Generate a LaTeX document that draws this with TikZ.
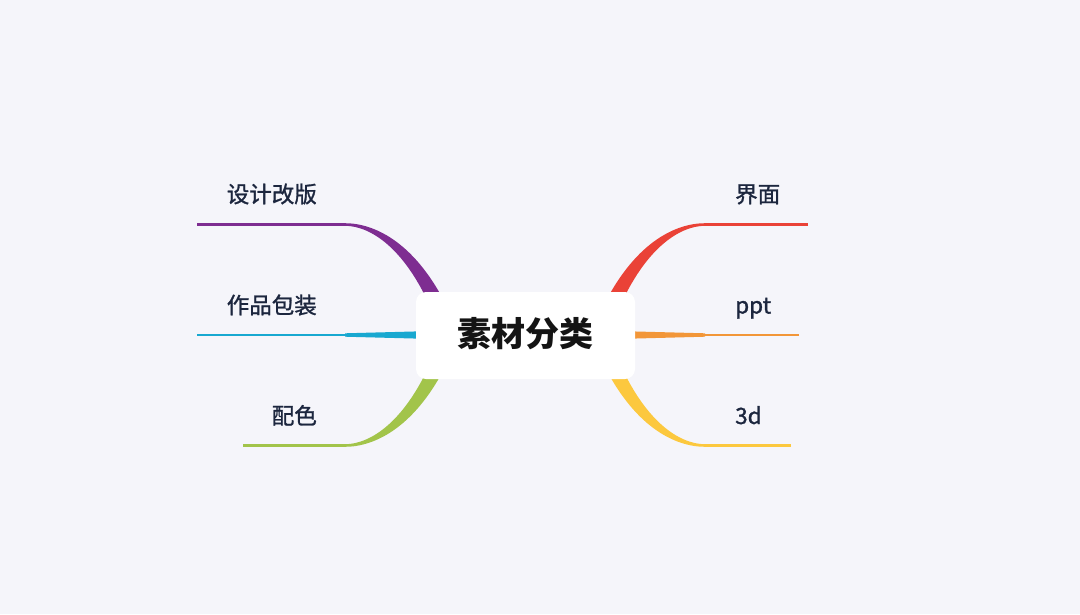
\documentclass[tikz,border=0pt]{standalone}
\usepackage{fontspec}
\newfontfamily\cjk{Noto Sans CJK SC}
\newfontfamily\cjkm[FakeBold=1.2]{Noto Sans CJK SC}
\definecolor{bgc}{RGB}{245,245,250}
\definecolor{txt}{RGB}{28,38,62}
\definecolor{cpur}{RGB}{126,45,145}
\definecolor{ccya}{RGB}{24,168,208}
\definecolor{cgrn}{RGB}{162,196,74}
\definecolor{cred}{RGB}{234,66,55}
\definecolor{cora}{RGB}{242,150,56}
\definecolor{cyel}{RGB}{252,200,62}
\begin{document}
\begin{tikzpicture}[x=1pt,y=-1pt,
  lbl/.style={inner sep=0pt,text=txt,font=\cjkm\fontsize{22.5}{22.5}\selectfont},
  branchline/.style={line width=2.5pt}]
\fill[bgc] (0,0) rectangle (1080,614);
\useasboundingbox (0,0) rectangle (1080,614);
% line end coordinates
\coordinate (pA) at (197,224.5);  \coordinate (pB) at (345,224.5);
\coordinate (cA) at (197,335);    \coordinate (cB) at (345,335);
\coordinate (gA) at (243,445.5);  \coordinate (gB) at (345,445.5);
\coordinate (rA) at (808,224.5);  \coordinate (rB) at (705,224.5);
\coordinate (oA) at (799,335);    \coordinate (oB) at (705,335);
\coordinate (yA) at (791,445.5);  \coordinate (yB) at (705,445.5);
% horizontal lines
\draw[branchline,cpur] (pA) -- (pB);
\draw[branchline,ccya] (cA) -- (cB);
\draw[branchline,cgrn] (gA) -- (gB);
\draw[branchline,cred] (rA) -- (rB);
\draw[branchline,cora] (oA) -- (oB);
\draw[branchline,cyel] (yA) -- (yB);
% tapered curves
\fill[cpur] (345,223.2) .. controls (374,223.2) and (417,242) .. (450,313)
  -- (435,318) .. controls (407,248) and (370,225.8) .. (345,225.8) -- cycle;
\fill[cgrn] (345,446.8) .. controls (374,446.8) and (417,428) .. (450,357)
  -- (435,352) .. controls (407,422) and (370,444.2) .. (345,444.2) -- cycle;
\fill[cred] (705,223.2) .. controls (676,223.2) and (633,242) .. (600,313)
  -- (615,318) .. controls (643,248) and (680,225.8) .. (705,225.8) -- cycle;
\fill[cyel] (705,446.8) .. controls (676,446.8) and (633,428) .. (600,357)
  -- (615,352) .. controls (643,422) and (680,444.2) .. (705,444.2) -- cycle;
\fill[ccya] (345,333.3) -- (425,331.2) -- (425,338.8) -- (345,336.7) -- cycle;
\fill[cora] (705,333.3) -- (625,331.2) -- (625,338.8) -- (705,336.7) -- cycle;
% central topic
\node[fill=white,rounded corners=10pt,minimum width=219pt,minimum height=87pt,inner sep=0pt]
  (c) at (525.5,335.5) {};
\node[inner sep=0pt,anchor=base,font=\cjk\bfseries\fontsize{34}{34}\selectfont,text=black!92]
  (ct) at (525,346) {素材分类};
% labels
\node[lbl,anchor=base east] (l1) at (317,202.5) {设计改版};
\node[lbl,anchor=base east] (l2) at (317,313.5) {作品包装};
\node[lbl,anchor=base east] (l3) at (317,424) {配色};
\node[lbl,anchor=base west] (r1) at (735,202.5) {界面};
\node[lbl,anchor=base west] (r2) at (735,313.5) {ppt};
\node[lbl,anchor=base west] (r3) at (735,424) {3d};
\end{tikzpicture}
\end{document}
